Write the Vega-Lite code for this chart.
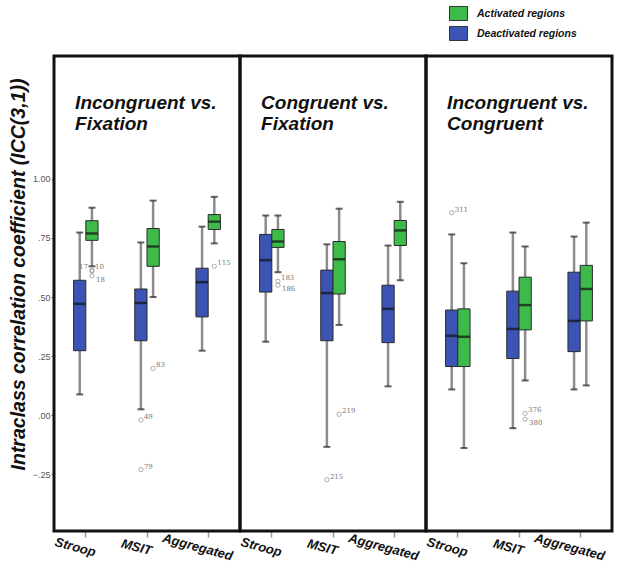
{
  "$schema": "https://vega.github.io/schema/vega-lite/v6.json",
  "padding": {"left": 8, "top": 4, "right": 5, "bottom": 5},
  "background": "white",
  "spacing": 0,
  "bounds": "flush",
  "config": {
    "font": "Liberation Sans",
    "view": {"stroke": "#111", "strokeWidth": 3},
    "facet": {"spacing": 0},
    "axis": {"grid": false, "domain": false}
  },
  "data": {
    "values": [
      {"panel": "Incongruent vs. Fixation", "task": "Stroop", "group": "Deactivated regions", "min": 0.088, "q1": 0.273, "median": 0.471, "q3": 0.571, "max": 0.773},
      {"panel": "Incongruent vs. Fixation", "task": "Stroop", "group": "Activated regions", "min": 0.63, "q1": 0.74, "median": 0.769, "q3": 0.823, "max": 0.878},
      {"panel": "Incongruent vs. Fixation", "task": "MSIT", "group": "Deactivated regions", "min": 0.025, "q1": 0.315, "median": 0.475, "q3": 0.534, "max": 0.731},
      {"panel": "Incongruent vs. Fixation", "task": "MSIT", "group": "Activated regions", "min": 0.5, "q1": 0.63, "median": 0.714, "q3": 0.79, "max": 0.908},
      {"panel": "Incongruent vs. Fixation", "task": "Aggregated", "group": "Deactivated regions", "min": 0.273, "q1": 0.416, "median": 0.563, "q3": 0.622, "max": 0.798},
      {"panel": "Incongruent vs. Fixation", "task": "Aggregated", "group": "Activated regions", "min": 0.727, "q1": 0.786, "median": 0.819, "q3": 0.849, "max": 0.924},
      {"panel": "Congruent vs. Fixation", "task": "Stroop", "group": "Deactivated regions", "min": 0.311, "q1": 0.521, "median": 0.656, "q3": 0.765, "max": 0.845},
      {"panel": "Congruent vs. Fixation", "task": "Stroop", "group": "Activated regions", "min": 0.605, "q1": 0.71, "median": 0.735, "q3": 0.786, "max": 0.845},
      {"panel": "Congruent vs. Fixation", "task": "MSIT", "group": "Deactivated regions", "min": -0.134, "q1": 0.315, "median": 0.517, "q3": 0.614, "max": 0.723},
      {"panel": "Congruent vs. Fixation", "task": "MSIT", "group": "Activated regions", "min": 0.382, "q1": 0.513, "median": 0.66, "q3": 0.735, "max": 0.874},
      {"panel": "Congruent vs. Fixation", "task": "Aggregated", "group": "Deactivated regions", "min": 0.122, "q1": 0.307, "median": 0.45, "q3": 0.55, "max": 0.718},
      {"panel": "Congruent vs. Fixation", "task": "Aggregated", "group": "Activated regions", "min": 0.571, "q1": 0.718, "median": 0.782, "q3": 0.824, "max": 0.903},
      {"panel": "Incongruent vs. Congruent", "task": "Stroop", "group": "Deactivated regions", "min": 0.109, "q1": 0.206, "median": 0.336, "q3": 0.445, "max": 0.765},
      {"panel": "Incongruent vs. Congruent", "task": "Stroop", "group": "Activated regions", "min": -0.139, "q1": 0.206, "median": 0.332, "q3": 0.45, "max": 0.643},
      {"panel": "Incongruent vs. Congruent", "task": "MSIT", "group": "Deactivated regions", "min": -0.055, "q1": 0.24, "median": 0.365, "q3": 0.525, "max": 0.773},
      {"panel": "Incongruent vs. Congruent", "task": "MSIT", "group": "Activated regions", "min": 0.147, "q1": 0.361, "median": 0.466, "q3": 0.584, "max": 0.714},
      {"panel": "Incongruent vs. Congruent", "task": "Aggregated", "group": "Deactivated regions", "min": 0.109, "q1": 0.269, "median": 0.399, "q3": 0.605, "max": 0.756},
      {"panel": "Incongruent vs. Congruent", "task": "Aggregated", "group": "Activated regions", "min": 0.126, "q1": 0.399, "median": 0.534, "q3": 0.634, "max": 0.815},
      {"panel": "Incongruent vs. Fixation", "task": "Stroop", "group": "Activated regions", "outlier": 0.613, "id": "10"},
      {"panel": "Incongruent vs. Fixation", "task": "Stroop", "group": "Activated regions", "outlier": 0.61, "id": "17"},
      {"panel": "Incongruent vs. Fixation", "task": "Stroop", "group": "Activated regions", "outlier": 0.59, "id": "18"},
      {"panel": "Incongruent vs. Fixation", "task": "MSIT", "group": "Activated regions", "outlier": 0.198, "id": "83"},
      {"panel": "Incongruent vs. Fixation", "task": "MSIT", "group": "Deactivated regions", "outlier": -0.02, "id": "49"},
      {"panel": "Incongruent vs. Fixation", "task": "MSIT", "group": "Deactivated regions", "outlier": -0.23, "id": "79"},
      {"panel": "Incongruent vs. Fixation", "task": "Aggregated", "group": "Activated regions", "outlier": 0.63, "id": "115"},
      {"panel": "Congruent vs. Fixation", "task": "Stroop", "group": "Activated regions", "outlier": 0.567, "id": "183"},
      {"panel": "Congruent vs. Fixation", "task": "Stroop", "group": "Activated regions", "outlier": 0.55, "id": "186"},
      {"panel": "Congruent vs. Fixation", "task": "MSIT", "group": "Deactivated regions", "outlier": -0.273, "id": "215"},
      {"panel": "Congruent vs. Fixation", "task": "MSIT", "group": "Activated regions", "outlier": 0.004, "id": "219"},
      {"panel": "Incongruent vs. Congruent", "task": "Stroop", "group": "Deactivated regions", "outlier": 0.857, "id": "311"},
      {"panel": "Incongruent vs. Congruent", "task": "MSIT", "group": "Activated regions", "outlier": 0.008, "id": "376"},
      {"panel": "Incongruent vs. Congruent", "task": "MSIT", "group": "Activated regions", "outlier": -0.017, "id": "380"}
    ]
  },
  "facet": {
    "column": {
      "field": "panel",
      "type": "nominal",
      "sort": ["Incongruent vs. Fixation", "Congruent vs. Fixation", "Incongruent vs. Congruent"],
      "header": {
        "title": null,
        "labelOrient": "top",
        "labelAnchor": "start",
        "labelAlign": "left",
        "labelBaseline": "top",
        "labelPadding": -78,
        "labelExpr": "split('\\u200b\\u00a0\\u00a0\\u00a0\\u00a0' + replace(datum.label, ' vs. ', ' vs.|\\u200b\\u00a0\\u00a0\\u00a0\\u00a0'), '|')",
        "labelFont": "Liberation Sans",
        "labelFontSize": 19,
        "labelFontWeight": "bold",
        "labelFontStyle": "italic",
        "labelColor": "#111",
        "labelLineHeight": 21
      }
    }
  },
  "spec": {
    "width": 186,
    "height": 475,
    "encoding": {
      "x": {
        "field": "task",
        "type": "nominal",
        "sort": ["Stroop", "MSIT", "Aggregated"],
        "scale": {"paddingInner": 0.6, "paddingOuter": 0.32},
        "axis": {
          "title": null,
          "labelAngle": 15,
          "labelAlign": "center",
          "labelBaseline": "top",
          "labelPadding": 4,
          "labelOffset": -9,
          "labelFont": "Liberation Sans",
          "labelFontSize": 13,
          "labelFontWeight": "bold",
          "labelFontStyle": "italic",
          "labelColor": "#111",
          "tickColor": "#999",
          "tickSize": 6,
          "tickWidth": 1.5
        }
      },
      "xOffset": {
        "field": "group",
        "type": "nominal",
        "sort": ["Deactivated regions", "Activated regions"],
        "scale": {"paddingInner": 0, "paddingOuter": 0}
      }
    },
    "layer": [
      {
        "transform": [{"filter": "isValid(datum.q1)"}],
        "mark": {"type": "rule", "color": "#8c8c8c", "strokeWidth": 2.5},
        "encoding": {
          "y": {
            "field": "min",
            "type": "quantitative",
            "scale": {"domain": [-0.49, 1.52], "nice": false, "zero": false},
            "axis": {
              "title": "Intraclass correlation coefficient (ICC(3,1))",
              "titleFont": "Liberation Sans",
              "titleFontSize": 19.5,
              "titleFontWeight": "bold",
              "titleFontStyle": "italic",
              "titleColor": "#111",
              "titlePadding": 4,
              "titleY": 218,
              "values": [-0.25, 0, 0.25, 0.5, 0.75, 1],
              "labelExpr": "replace(format(datum.value, '.2f'), '0.', '.')",
              "labelFont": "Liberation Sans",
              "labelFontSize": 9,
              "labelColor": "#555",
              "labelPadding": 1,
              "tickSize": 3,
              "tickColor": "#777"
            }
          },
          "y2": {"field": "max"}
        }
      },
      {
        "transform": [{"filter": "isValid(datum.q1)"}],
        "mark": {"type": "tick", "color": "#222", "size": 7, "thickness": 2},
        "encoding": {"y": {"field": "min", "type": "quantitative"}}
      },
      {
        "transform": [{"filter": "isValid(datum.q1)"}],
        "mark": {"type": "tick", "color": "#222", "size": 7, "thickness": 2},
        "encoding": {"y": {"field": "max", "type": "quantitative"}}
      },
      {
        "transform": [{"filter": "isValid(datum.q1)"}],
        "mark": {"type": "bar", "stroke": "#2a2a2a", "strokeWidth": 1},
        "encoding": {
          "y": {"field": "q1", "type": "quantitative"},
          "y2": {"field": "q3"},
          "color": {
            "field": "group",
            "type": "nominal",
            "scale": {"domain": ["Activated regions", "Deactivated regions"], "range": ["#3cbb4a", "#3c55b4"]},
            "legend": {
              "title": null,
              "orient": "none",
              "legendX": 395,
              "legendY": -52,
              "symbolType": "M-1,-0.78H1V0.78H-1Z",
              "symbolSize": 324,
              "symbolStrokeColor": "#333",
              "symbolStrokeWidth": 1,
              "labelOffset": 9,
              "labelFont": "Liberation Sans",
              "labelFontSize": 10.5,
              "labelFontWeight": "bold",
              "labelFontStyle": "italic",
              "labelColor": "#111",
              "rowPadding": 1
            }
          }
        }
      },
      {
        "transform": [{"filter": "isValid(datum.q1)"}],
        "mark": {"type": "tick", "color": "#111", "size": 12, "thickness": 2.5},
        "encoding": {"y": {"field": "median", "type": "quantitative"}}
      },
      {
        "transform": [{"filter": "isValid(datum.outlier)"}],
        "mark": {"type": "point", "shape": "circle", "color": "#888", "size": 18, "strokeWidth": 1},
        "encoding": {"y": {"field": "outlier", "type": "quantitative"}}
      },
      {
        "transform": [{"filter": "isValid(datum.outlier) && indexof(['17','18','186','380'], datum.id) < 0"}],
        "mark": {"type": "text", "align": "left", "baseline": "bottom", "dx": 3, "dy": 0, "fontSize": 7, "font": "DejaVu Serif", "color": "#777"},
        "encoding": {
          "y": {"field": "outlier", "type": "quantitative"},
          "text": {"field": "id"}
        }
      },
      {
        "transform": [{"filter": "indexof(['18','186','380'], datum.id) >= 0"}],
        "mark": {"type": "text", "align": "left", "baseline": "top", "dx": 4, "dy": 0, "fontSize": 7, "font": "DejaVu Serif", "color": "#777"},
        "encoding": {
          "y": {"field": "outlier", "type": "quantitative"},
          "text": {"field": "id"}
        }
      },
      {
        "transform": [{"filter": "datum.id == '17'"}],
        "mark": {"type": "text", "align": "right", "baseline": "bottom", "dx": -4, "dy": -1, "fontSize": 7, "font": "DejaVu Serif", "color": "#777"},
        "encoding": {
          "y": {"field": "outlier", "type": "quantitative"},
          "text": {"field": "id"}
        }
      }
    ]
  }
}
